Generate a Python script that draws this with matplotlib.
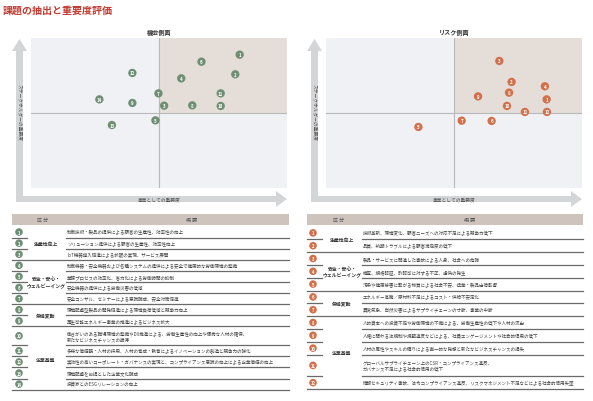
import matplotlib.pyplot as plt
from matplotlib.patches import Polygon, Rectangle

plt.rcParams['font.family'] = ['Noto Sans CJK JP', 'DejaVu Sans']

# 機会側面 (opportunity) points
opp_ids = [1, 2, 3, 4, 5, 6, 7, 8, 9, 10, 11, 12, 13, 14]
opp_x = [8.15, 7.98, 5.20, 5.87, 4.86, 6.66, 4.98, 6.30, 3.96, 7.41, 7.41, 3.96, 3.16, 2.67]
opp_y = [8.89, 7.58, 5.49, 7.31, 4.51, 8.42, 6.31, 5.51, 5.67, 5.47, 6.31, 7.67, 4.20, 5.91]

# リスク側面 (risk) points
risk_ids = [1, 2, 3, 4, 5, 6, 7, 8, 9, 10, 11, 12]
risk_x = [8.62, 7.25, 6.77, 8.55, 3.61, 6.47, 5.30, 7.15, 5.94, 7.07, 7.77, 8.63]
risk_y = [5.91, 7.07, 8.47, 6.78, 4.07, 4.47, 4.49, 6.36, 6.11, 5.47, 5.07, 5.07]

opp_groups = [("生産性向上", 1, 3), ("安全・安心・\nウェルビーイング", 4, 7),
              ("気候変動", 8, 9), ("企業基盤", 10, 14)]
opp_items = [
    "制御技術・製品の提供による顧客の生産性、効率性の向上",
    "ソリューション提供による顧客の生産性、効率性向上",
    "IoT機器導入促進による拡販の実現、サービス展開",
    "制御機器・安全機器および各種システムの提供による安全で健康的な労働環境の整備",
    "業務プロセスの効率化、省力化による労働時間の抑制",
    "安全機器の提供による労働災害の低減",
    "安全コンサル、セミナーによる意識醸成、安全対策促進",
    "環境配慮型製品の開発促進による環境負荷低減と競争力向上",
    "再生可能エネルギー事業の推進によるビジネス拡大",
    "働きがいのある職場環境の整備やDX推進による、労働生産性の向上や優秀な人材の確保、\n新たなビジネスチャンスの獲得",
    "多様な価値観・人材の採用、人材の育成・教育によるイノベーションの創造と競争力の強化",
    "実効性の高いコーポレート・ガバナンスの実現と、コンプライアンス意識の向上による企業価値の向上",
    "環境配慮を前提とした企業文化醸成",
    "投資家とのESGリレーションの向上",
]

risk_groups = [("生産性向上", 1, 2), ("安全・安心・\nウェルビーイング", 3, 5),
               ("気候変動", 6, 7), ("企業基盤", 8, 12)]
risk_items = [
    "技術革新、環境変化、顧客ニーズへの対応不足による競争力低下",
    "品質、納期トラブルによる顧客満足度の低下",
    "製品・サービスに関連した事故による人身、社会への危険",
    "検査、規格認証、許認可に対する不正、虚偽の発生",
    "汚染や健康被害に繋がる物質による社会不安、操業・製品出荷影響",
    "エネルギー高騰／原材料不足によるコスト・供給不安定化",
    "異常気象、自然災害によるサプライチェーンの寸断、事業の中断",
    "人的資本への投資不足や労働環境の不備による、労働生産性の低下や人材の流出",
    "人権に関わる法規制や規範違反などによる、社員エンゲージメントや社会的信用の低下",
    "人材の属性やスキルの偏りによる画一的な発想と新たなビジネスチャンスの損失",
    "グローバルサプライチェーン上のCSR・コンプライアンス違反、\nガバナンス不足による社会的信用の低下",
    "情報セキュリティ事故、法令コンプライアンス違反、リスクマネジメント不足などによる社会的信用失墜",
]

GREEN = '#6e8f73'
ORANGE = '#d2704b'
ARROW = '#d4d5d7'
LIGHT = '#f0f1f4'
TAN = '#e4ddd8'
HEADER = '#cec4bd'
LINE = '#6a6a6a'

W, H = 593, 402
fig = plt.figure(figsize=(W / 100, H / 100), dpi=100)
fig.patch.set_facecolor('white')

bg = fig.add_axes([0, 0, 1, 1], zorder=0)
bg.set_xlim(0, W)
bg.set_ylim(H, 0)
bg.axis('off')

bg.text(3, 11, "課題の抽出と重要度評価", color='#c23b32', fontsize=7.2,
        fontweight='bold', va='center', ha='left')


def draw_arrows(x_shaft, x_tip, y_top):
    # L-shaped grey arrows for the two axes
    vert = [(x_shaft - 3.5, 203), (x_shaft - 3.5, 52), (x_shaft - 7.5, 52),
            (x_shaft, y_top), (x_shaft + 7.5, 52), (x_shaft + 3.5, 52),
            (x_shaft + 3.5, 197), (x_tip - 11, 197), (x_tip - 11, 192),
            (x_tip, 200), (x_tip - 11, 208), (x_tip - 11, 203)]
    bg.add_patch(Polygon(vert, closed=True, facecolor=ARROW, edgecolor='none'))
    bg.text(x_shaft, 113, "ステークホルダーの重要度", rotation=270, fontsize=3.4,
            color='#555555', ha='center', va='center')


def draw_chart(left, title, ids, xs, ys, color):
    x0, x1 = left, left + 256
    draw_arrows(x0 - 11.5, x1, 40)
    bg.text((x0 + x1) / 2, 200, "事業としての重要度", fontsize=3.4, color='#555555',
            ha='center', va='center')
    bg.text((x0 + x1) / 2, 32, title, fontsize=4.4, fontweight='bold',
            color='#333333', ha='center', va='center')

    ax = fig.add_axes([x0 / W, (H - 189) / H, 256 / W, 150 / H], zorder=1)
    ax.set_xlim(0, 10)
    ax.set_ylim(0, 10)
    ax.set_facecolor(LIGHT)
    ax.add_patch(Rectangle((5, 5), 5, 5, facecolor=TAN, edgecolor='none', zorder=0))
    ax.axvline(5, color='#b9b9bb', lw=0.8, zorder=1)
    ax.axhline(5, color='#b9b9bb', lw=0.8, zorder=1)
    ax.scatter(xs, ys, s=36, color=color, edgecolor='none', zorder=3)
    for i, x, y in zip(ids, xs, ys):
        ax.text(x, y, str(i), color='white', fontsize=3.2, fontweight='bold',
                ha='center', va='center', zorder=4)
    ax.set_xticks([])
    ax.set_yticks([])
    for s in ax.spines.values():
        s.set_visible(False)


draw_chart(31, "機会側面", opp_ids, opp_x, opp_y, GREEN)
draw_chart(326, "リスク側面", risk_ids, risk_x, risk_y, ORANGE)


def draw_table(x0, x1, num_x, cat_x, txt_x, head_txt_x, items, groups, color, unit):
    bg.add_patch(Rectangle((x0, 215), x1 - x0, 11, facecolor=HEADER, edgecolor='none'))
    bg.text(cat_x - 3, 220.5, "区 分", fontsize=3.6, color='#555555', ha='center', va='center')
    bg.text(head_txt_x, 220.5, "概 要", fontsize=3.6, color='#555555', ha='center', va='center')

    last_in_group = {g[2] for g in groups}
    y = 227.5
    centers = []
    for n, text in enumerate(items, start=1):
        h = unit * (1.7 if '\n' in text else 1.0)
        yc = y + h / 2
        centers.append(yc)
        bg.text(txt_x, yc, text, fontsize=3.25, color='#444444', ha='left',
                va='center', linespacing=1.3)
        yb = y + h
        if n in last_in_group:
            bg.plot([x0, x1], [yb, yb], color=LINE, lw=0.9)
        else:
            bg.plot([x0, x0 + 15], [yb, yb], color=LINE, lw=0.9)
            bg.plot([txt_x - 1, x1], [yb, yb], color=LINE, lw=0.9)
        y = yb
    bg.scatter([num_x] * len(items), centers, s=30, color=color, edgecolor='none', zorder=3)
    for n, yc in enumerate(centers, start=1):
        bg.text(num_x, yc, str(n), color='white', fontsize=3.0, fontweight='bold',
                ha='center', va='center', zorder=4)
    for name, a, b in groups:
        yc = (centers[a - 1] + centers[b - 1]) / 2
        bg.text(cat_x, yc, name, fontsize=3.5, fontweight='bold', color='#333333',
                ha='center', va='center', linespacing=1.3)


draw_table(12, 289, 19, 46, 67, 192, opp_items, opp_groups, GREEN, 11.1)
draw_table(307, 583, 313, 342, 363, 470, risk_items, risk_groups, ORANGE, 12.8)

fig.savefig('out.png', dpi=100, facecolor='white')
